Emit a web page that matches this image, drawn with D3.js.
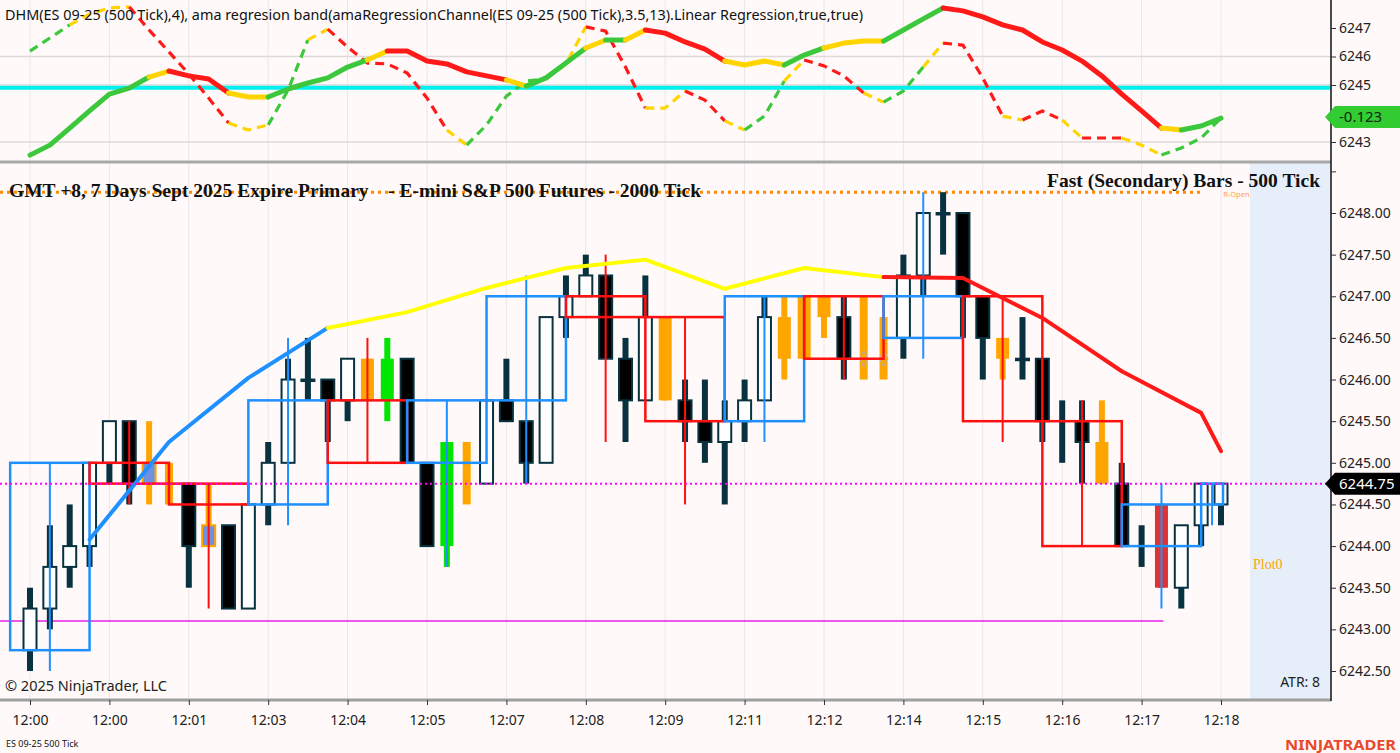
<!DOCTYPE html>
<html>
<head>
<meta charset="utf-8">
<script src="https://cdn.jsdelivr.net/npm/d3@7"></script>
<style>
body { margin: 0; background: #fffaf9; overflow: hidden; }
text { font-family: "Noto Sans", "DejaVu Sans", sans-serif; }
</style>
</head>
<body>
<script>
// ---- data ----

// time axis (every 4th 500-tick bar)
var timeSlots = [0, 4, 8, 12, 16, 20, 24, 28, 32, 36, 40, 44, 48, 52, 56, 60];
var timeLabels = ["12:00", "12:00", "12:01", "12:03", "12:04", "12:05", "12:07", "12:08",
                  "12:09", "12:11", "12:12", "12:14", "12:15", "12:16", "12:17", "12:18"];

// secondary (500 tick) bars
var secOpen = [6242.75, 6243.25, 6243.75, 6244.0, 6245.0, 6245.5, 6245.0, 6245.0, 6244.75, 6244.25,
               6244.25, 6243.25, 6244.5, 6245.0, 6246.0, 6246.0, 6245.75, 6246.25, 6245.75, 6246.25,
               6245.0, 6244.0, 6245.0, 6244.75, 6245.75, 6245.5, 6245.0, 6246.75, 6247.0, 6247.25,
               6246.25, 6245.75, 6246.75, 6245.75, 6245.5, 6245.25, 6245.5, 6245.75, 6246.75, 6247.0,
               6247.0, 6246.75, 6246.5, 6246.5, 6246.5, 6247.25, 6248.0, 6248.0, 6247.0, 6246.5,
               6246.25, 6246.25, 6245.75, 6245.5, 6245.25, 6244.75, 6244.25, 6244.5, 6243.5, 6244.25, 6244.5];
var secHigh = [6243.5, 6244.25, 6244.5, 6245.0, 6245.5, 6245.5, 6245.5, 6245.0, 6244.75, 6244.75,
               6244.25, 6244.5, 6245.25, 6246.25, 6246.5, 6246.0, 6246.25, 6246.25, 6246.5, 6246.25,
               6245.0, 6245.25, 6245.25, 6245.75, 6246.25, 6245.5, 6246.75, 6247.25, 6247.5, 6247.25,
               6246.5, 6247.25, 6246.75, 6246.0, 6246.0, 6245.75, 6246.0, 6247.0, 6247.0, 6247.0,
               6247.0, 6247.0, 6247.0, 6246.75, 6247.5, 6248.0, 6248.25, 6248.0, 6247.0, 6246.5,
               6246.75, 6246.25, 6245.75, 6245.75, 6245.75, 6245.0, 6244.25, 6244.5, 6244.25, 6244.75, 6244.75];
var secLow = [6242.5, 6243.0, 6243.5, 6243.75, 6244.75, 6244.5, 6244.5, 6244.5, 6243.5, 6244.0,
              6243.25, 6243.25, 6244.25, 6245.0, 6245.75, 6245.25, 6245.5, 6245.75, 6245.5, 6245.0,
              6244.0, 6243.75, 6244.5, 6244.75, 6245.5, 6244.75, 6245.0, 6246.5, 6247.0, 6246.25,
              6245.25, 6245.75, 6245.75, 6245.25, 6245.0, 6244.5, 6245.25, 6245.75, 6246.0, 6246.25,
              6246.5, 6246.0, 6246.0, 6246.0, 6246.25, 6247.0, 6247.5, 6246.5, 6246.0, 6246.0,
              6246.0, 6245.25, 6245.0, 6244.75, 6244.75, 6244.0, 6243.75, 6243.5, 6243.25, 6244.0, 6244.25];
var secClose = [6243.25, 6243.75, 6244.0, 6245.0, 6245.5, 6244.75, 6244.75, 6244.75, 6244.0, 6244.0,
                6243.25, 6244.5, 6245.0, 6246.0, 6246.0, 6245.75, 6246.25, 6245.75, 6246.25, 6245.0,
                6244.0, 6245.25, 6244.75, 6245.75, 6245.5, 6245.0, 6246.75, 6247.0, 6247.25, 6246.25,
                6245.75, 6246.75, 6245.75, 6245.5, 6245.25, 6245.5, 6245.75, 6246.75, 6246.25, 6246.25,
                6246.75, 6246.25, 6246.5, 6246.5, 6247.25, 6248.0, 6248.0, 6247.0, 6246.5, 6246.25,
                6246.25, 6245.5, 6245.75, 6245.25, 6244.75, 6244.0, 6244.25, 6243.5, 6244.25, 6244.75, 6244.75];
// bar paint state: u up, d down, o orange, b orange/blue body, n orange narrow, g green, r red, w wick only
var secState = "uuuuudbndb" + "duuudduogd" + "dgnudduuud" + "duodduuuoo" + "odnnuudddo" + "ddwdodwruuu";
var diamondSlots = [42, 43];
var diamondPrice = 6246.25;

// primary (2000 tick) bars, 4 secondary bars each
var priOpen  = [6242.75, 6245.0, 6244.75, 6244.5, 6245.75, 6245.0, 6245.75, 6247.0, 6246.75, 6245.5, 6247.0, 6246.5, 6247.0, 6245.5, 6244.0, 6244.5];
var priHigh  = [6245.0, 6245.5, 6244.75, 6246.5, 6246.5, 6245.75, 6247.25, 6247.5, 6246.75, 6247.0, 6247.0, 6248.25, 6247.0, 6245.75, 6244.75, 6244.75];
var priLow   = [6242.5, 6244.5, 6243.25, 6244.25, 6245.0, 6243.75, 6244.75, 6245.25, 6244.5, 6245.25, 6246.0, 6246.25, 6245.25, 6244.0, 6243.25, 6244.25];
var priClose = [6245.0, 6244.75, 6244.5, 6245.75, 6245.0, 6245.75, 6247.0, 6246.75, 6245.5, 6247.0, 6246.25, 6247.0, 6245.5, 6244.0, 6244.5, 6244.75];

// moving average on primary bars and its trend state per segment (b rising, Y flat, r falling)
var maValues = [6244.08, 6245.25, 6246.02, 6246.62, 6246.81, 6247.10, 6247.34, 6247.44, 6247.09, 6247.34, 6247.23, 6247.22, 6246.74, 6246.10, 6245.60, 6245.14];
var maState = "bbbYYYYYYYrrrrr";

// levels
var rOpen = 6248.25;
var lastPrice = 6244.75;
var lowLevel = 6243.1;
var lowLevelEnd = 57;
var rOpenEnd = 59;

// top panel: DHM / regression band lines (per secondary bar)
var dhmSolid = [6242.54, 6242.89, 6243.49, 6244.09, 6244.68, 6244.89, 6245.28, 6245.49, 6245.32, 6245.21,
                6244.72, 6244.58, 6244.58, 6244.86, 6245.07, 6245.25, 6245.63, 6245.88, 6246.19, 6246.19,
                6245.84, 6245.74, 6245.46, 6245.32, 6245.18, 6244.96, 6245.25, 6245.77, 6246.30, 6246.58,
                6246.58, 6246.93, 6246.82, 6246.51, 6246.26, 6245.84, 6245.70, 6245.84, 6245.70, 6246.05,
                6246.30, 6246.47, 6246.54, 6246.54, 6246.93, 6247.32, 6247.70, 6247.60, 6247.39, 6247.11,
                6246.93, 6246.51, 6246.23, 6245.84, 6245.32, 6244.68, 6244.09, 6243.49, 6243.42, 6243.56, 6243.84];
var dhmDash = [6246.19, 6246.65, 6247.11, 6247.49, 6247.70, 6247.74, 6246.93, 6246.16, 6245.39, 6244.54,
               6243.67, 6243.42, 6243.60, 6244.82, 6246.58, 6246.96, 6246.33, 6245.77, 6245.74, 6245.42,
               6244.54, 6243.42, 6242.89, 6243.60, 6244.61, 6245.14, 6245.21, 6245.74, 6247.04, 6246.89,
               6245.63, 6244.19, 6244.19, 6244.79, 6244.47, 6243.74, 6243.42, 6243.91, 6245.14, 6245.88,
               6245.67, 6245.32, 6244.72, 6244.40, 6244.79, 6245.63, 6246.47, 6246.40, 6245.25, 6243.91,
               6243.77, 6244.09, 6243.77, 6243.14, 6243.14, 6243.14, 6242.89, 6242.54, 6242.79, 6243.14, 6243.84];
// segment states: g rising, y flat, r falling
var solidState = "ggggggyrrryygggggyrrrrrrygggygyrrrryyyggyyygggrrrrrrrrrrrygg";
var dashState  = "ggyyyrrrrryyggyrrrrrryggggyyrrryyrrygg" + "yrrryggyrrryrryrryyggg";
var bandLevel = 6244.9;
var dhmLast = "-0.123";

var topTicks = [6243, 6244, 6245, 6246, 6247];
var topGrid = [6243, 6245, 6246];
var mainTicks = [6242.5, 6243, 6243.5, 6244, 6244.5, 6245, 6245.5, 6246, 6246.5, 6247, 6247.5, 6248, 6248.5];

window.onload = function(){

    var w = 1400, h = 753;
    var axisX = 1331;
    var topBottom = 161, mainTop = 163, mainBottom = 700;
    var dark = "#08323f";

    var svg = d3.select("body")
        .append("svg")
        .attr("width", w)
        .attr("height", h)
        .style("background-color", "#fffaf9");

    var lastSlot = secOpen.length - 1;

    // scales
    var x = d3.scaleLinear().domain([0, lastSlot]).range([30, 1221]);
    var slotW = x(1) - x(0);
    var yMain = d3.scaleLinear().domain([6242.5, 6248]).range([671, 213]);
    var yTop = d3.scaleLinear().domain([6243, 6247]).range([142, 28]);

    var defs = svg.append("defs");
    defs.append("clipPath").attr("id", "clipTop")
        .append("rect").attr("x", 0).attr("y", 0).attr("width", axisX).attr("height", topBottom);
    defs.append("clipPath").attr("id", "clipMain")
        .append("rect").attr("x", 0).attr("y", mainTop).attr("width", axisX).attr("height", mainBottom - mainTop);

    // shaded area at the right of the main panel
    svg.append("rect")
        .attr("x", 1250).attr("y", mainTop)
        .attr("width", axisX - 1250).attr("height", mainBottom - mainTop - 1)
        .style("fill", "#e6eef9");

    // vertical grid lines
    svg.append("g").selectAll("line")
        .data(timeSlots)
        .enter().append("line")
        .attr("x1", function(d){ return x(d); })
        .attr("x2", function(d){ return x(d); })
        .attr("y1", 0).attr("y2", mainBottom)
        .style("stroke", "#ece6e6").style("stroke-width", 1);

    // top panel horizontal grid
    svg.append("g").selectAll("line")
        .data(topGrid)
        .enter().append("line")
        .attr("x1", 0).attr("x2", axisX)
        .attr("y1", function(d){ return yTop(d); })
        .attr("y2", function(d){ return yTop(d); })
        .style("stroke", "#dedada").style("stroke-width", 1.5);

    // ---------- top panel ----------
    var topG = svg.append("g").attr("clip-path", "url(#clipTop)");

    topG.append("line")
        .attr("x1", 0).attr("x2", axisX)
        .attr("y1", yTop(bandLevel)).attr("y2", yTop(bandLevel))
        .style("stroke", "#00f0f0").style("stroke-width", 4);

    var trendColor = { g: "#3cc83c", y: "#ffd400", r: "#ff1a1a", b: "#1e90ff", Y: "#ffff00" };

    // split a line into runs of the same state
    function runs(states){
        var out = [], start = 0;
        for (var i = 1; i <= states.length; i++) {
            if (i === states.length || states[i] !== states[start]) {
                out.push({ s: states[start], from: start, to: i });
                start = i;
            }
        }
        return out;
    }

    function drawTrendLine(g, values, states, xs, yScale, width, dash){
        var line = d3.line()
            .x(function(d){ return xs(d); })
            .y(function(d){ return yScale(values[d]); });
        g.selectAll(null)
            .data(runs(states))
            .enter().append("path")
            .attr("d", function(r){ return line(d3.range(r.from, r.to + 1)); })
            .style("fill", "none")
            .style("stroke", function(r){ return trendColor[r.s]; })
            .style("stroke-width", width)
            .style("stroke-linejoin", "round")
            .style("stroke-linecap", dash ? "butt" : "round")
            .style("stroke-dasharray", dash ? dash : null);
    }

    drawTrendLine(topG, dhmDash, dashState, function(i){ return x(i); }, yTop, 3.2, "9,6");
    drawTrendLine(topG, dhmSolid, solidState, function(i){ return x(i); }, yTop, 5, null);

    topG.append("text")
        .attr("x", 5).attr("y", 20)
        .style("font-size", "14.4px").style("fill", "#111")
        .text("DHM(ES 09-25 (500 Tick),4), ama regresion band(amaRegressionChannel(ES 09-25 (500 Tick),3.5,13).Linear Regression,true,true)");

    // ---------- main panel ----------
    var mainG = svg.append("g").attr("clip-path", "url(#clipMain)");

    // levels
    mainG.append("line")
        .attr("x1", 0).attr("x2", x(lowLevelEnd) + 2)
        .attr("y1", yMain(lowLevel)).attr("y2", yMain(lowLevel))
        .style("stroke", "#e81ee8").style("stroke-width", 1.5);

    mainG.append("line")
        .attr("x1", 0).attr("x2", x(rOpenEnd) + 2)
        .attr("y1", yMain(rOpen)).attr("y2", yMain(rOpen))
        .style("stroke", "#ff8c00").style("stroke-width", 3)
        .style("stroke-dasharray", "3,4");

    mainG.append("text")
        .attr("x", x(rOpenEnd) + 22).attr("y", yMain(rOpen) + 5)
        .style("font-size", "7.5px").style("fill", "#ffa050")
        .text("R-Open");

    // secondary candles
    var bars = d3.range(secOpen.length).map(function(i){
        return { i: i, o: secOpen[i], h: secHigh[i], l: secLow[i], c: secClose[i], s: secState[i] };
    });

    var wickColor = { u: dark, d: dark, w: dark, o: "#ffa500", b: "#ffa500", n: "#ffa500", g: "#00e600", r: "#dd3333" };
    var bodyFill = { u: "#ffffff", d: "#000000", o: "#ffa500", b: "#6f8fe0", g: "#00e600", r: "#dd3333" };
    var bodyStroke = { u: dark, d: dark, b: "#ffa500" };

    var candles = mainG.append("g").selectAll("g")
        .data(bars)
        .enter().append("g");

    candles.append("rect")
        .attr("x", function(d){ return x(d.i) - (d.s === "n" ? 4 : 3); })
        .attr("width", function(d){ return d.s === "n" ? 8 : 6; })
        .attr("y", function(d){ return yMain(d.h); })
        .attr("height", function(d){ return Math.max(1, yMain(d.l) - yMain(d.h)); })
        .style("fill", function(d){ return wickColor[d.s]; });

    candles.filter(function(d){ return d.s !== "n" && d.s !== "w"; })
        .append("rect")
        .attr("x", function(d){ return x(d.i) - 6.5; })
        .attr("width", 13)
        .attr("y", function(d){ return yMain(Math.max(d.o, d.c)); })
        .attr("height", function(d){ return Math.max(1.5, Math.abs(yMain(d.o) - yMain(d.c))); })
        .style("fill", function(d){ return bodyFill[d.s]; })
        .style("stroke", function(d){ return bodyStroke[d.s] || "none"; })
        .style("stroke-width", 2);

    mainG.append("g").selectAll("path")
        .data(diamondSlots)
        .enter().append("path")
        .attr("d", d3.symbol().type(d3.symbolDiamond).size(70))
        .attr("transform", function(d){ return "translate(" + x(d) + "," + yMain(diamondPrice) + ")"; })
        .style("fill", "#ffa500").style("stroke", "#b0b0b0").style("stroke-width", 1);

    // primary boxes
    var pri = d3.range(priOpen.length).map(function(k){
        var s = k * 4, e = Math.min(k * 4 + 3, lastSlot);
        var left = x(s) - slotW;
        var right = (e === lastSlot) ? x(e) + 2 : x(e);
        return { left: left, right: right, o: priOpen[k], h: priHigh[k], l: priLow[k], c: priClose[k] };
    });

    var priG = mainG.append("g").selectAll("g")
        .data(pri)
        .enter().append("g")
        .style("stroke", function(d){ return d.c >= d.o ? "#1e90ff" : "#ff1010"; });

    priG.append("line")
        .attr("x1", function(d){ return (d.left + d.right) / 2; })
        .attr("x2", function(d){ return (d.left + d.right) / 2; })
        .attr("y1", function(d){ return yMain(d.h); })
        .attr("y2", function(d){ return yMain(d.l); })
        .style("stroke-width", 2);

    priG.append("rect")
        .attr("x", function(d){ return d.left; })
        .attr("width", function(d){ return d.right - d.left; })
        .attr("y", function(d){ return yMain(Math.max(d.o, d.c)); })
        .attr("height", function(d){ return Math.max(1, Math.abs(yMain(d.o) - yMain(d.c))); })
        .style("fill", "none")
        .style("stroke-width", 2.5);

    // moving average over primary bars
    drawTrendLine(mainG, maValues, maState,
        function(k){ return x(Math.min(k * 4 + 3, lastSlot)); }, yMain, 4, null);

    // last price line
    mainG.append("line")
        .attr("x1", 0).attr("x2", axisX)
        .attr("y1", yMain(lastPrice)).attr("y2", yMain(lastPrice))
        .style("stroke", "#ff00ff").style("stroke-width", 2)
        .style("stroke-dasharray", "2,3");

    // titles
    mainG.append("text")
        .attr("x", 9).attr("y", 197)
        .attr("xml:space", "preserve")
        .attr("textLength", 692).attr("lengthAdjust", "spacing")
        .style("font-family", "'Liberation Serif', 'DejaVu Serif', serif")
        .style("font-weight", "bold").style("font-size", "19.5px").style("fill", "#111")
        .text("GMT +8, 7 Days Sept 2025 Expire Primary    - E-mini S&P 500 Futures - 2000 Tick");

    mainG.append("text")
        .attr("x", 1047).attr("y", 187)
        .attr("textLength", 273).attr("lengthAdjust", "spacing")
        .style("font-family", "'Liberation Serif', 'DejaVu Serif', serif")
        .style("font-weight", "bold").style("font-size", "19.5px").style("fill", "#111")
        .text("Fast (Secondary) Bars - 500 Tick");

    mainG.append("text")
        .attr("x", 1253).attr("y", 569)
        .style("font-family", "'Liberation Serif', 'DejaVu Serif', serif")
        .style("font-size", "14px").style("fill", "#ffa500")
        .text("Plot0");

    mainG.append("text")
        .attr("x", 1320).attr("y", 687)
        .attr("text-anchor", "end")
        .style("font-size", "14px").style("fill", "#222")
        .text("ATR: 8");

    mainG.append("text")
        .attr("x", 5).attr("y", 691)
        .style("font-size", "14.5px").style("fill", "#222")
        .text("\u00a9 2025 NinjaTrader, LLC");

    // ---------- frame and axes ----------
    svg.append("line")
        .attr("x1", 0).attr("x2", axisX)
        .attr("y1", topBottom + 1).attr("y2", topBottom + 1)
        .style("stroke", "#a8a8a8").style("stroke-width", 3);

    svg.append("line")
        .attr("x1", 0).attr("x2", axisX)
        .attr("y1", mainBottom).attr("y2", mainBottom)
        .style("stroke", "#a0a0a0").style("stroke-width", 3);

    svg.append("line")
        .attr("x1", axisX).attr("x2", axisX)
        .attr("y1", 0).attr("y2", mainBottom + 1)
        .style("stroke", "#111").style("stroke-width", 1.5);

    var topAxis = svg.append("g")
        .attr("class", "axis")
        .attr("transform", "translate(" + axisX + ",0)")
        .call(d3.axisRight(yTop).tickValues(topTicks)
            .tickFormat(function(d){ return d === 6244 ? "" : d3.format("d")(d); })
            .tickSize(5));

    var mainAxis = svg.append("g")
        .attr("class", "axis")
        .attr("transform", "translate(" + axisX + ",0)")
        .call(d3.axisRight(yMain).tickValues(mainTicks)
            .tickFormat(function(d){ return d > 6248 ? "" : d3.format(".2f")(d); })
            .tickSize(5));

    var timeAxis = svg.append("g")
        .attr("class", "axis")
        .attr("transform", "translate(0," + mainBottom + ")")
        .call(d3.axisBottom(x).tickValues(timeSlots)
            .tickFormat(function(d, i){ return timeLabels[i]; })
            .tickSize(5));

    svg.selectAll(".axis .domain").remove();
    svg.selectAll(".axis line").style("stroke", "#333");
    svg.selectAll(".axis text")
        .style("font-family", "'Noto Sans', 'DejaVu Sans', sans-serif")
        .style("font-size", "14px").style("fill", "#222");
    timeAxis.selectAll("text").attr("y", 15);

    // value labels on the axis
    function axisTag(yv, fill, txtColor, label){
        var y0 = yv - 11, y1 = yv + 11;
        svg.append("path")
            .attr("d", "M" + (axisX - 6) + "," + yv + " L" + (axisX + 4) + "," + y0 +
                       " L1400," + y0 + " L1400," + y1 + " L" + (axisX + 4) + "," + y1 + " Z")
            .style("fill", fill);
        svg.append("text")
            .attr("x", axisX + 8).attr("y", yv + 5)
            .style("font-size", "15px").style("fill", txtColor)
            .text(label);
    }
    axisTag(117, "#33cc33", "#0a2a0a", dhmLast);
    axisTag(yMain(lastPrice), "#000000", "#ffffff", d3.format(".2f")(lastPrice));

    // footer
    svg.append("text")
        .attr("x", 6).attr("y", 747)
        .style("font-size", "9px").style("fill", "#111")
        .text("ES 09-25 500 Tick");

    svg.append("text")
        .attr("x", 1285).attr("y", 750)
        .attr("textLength", 111).attr("lengthAdjust", "spacingAndGlyphs")
        .style("font-size", "15px").style("font-weight", "bold")
        .style("fill", "#e8492a")
        .text("NINJATRADER");
};
</script>
</body>
</html>
